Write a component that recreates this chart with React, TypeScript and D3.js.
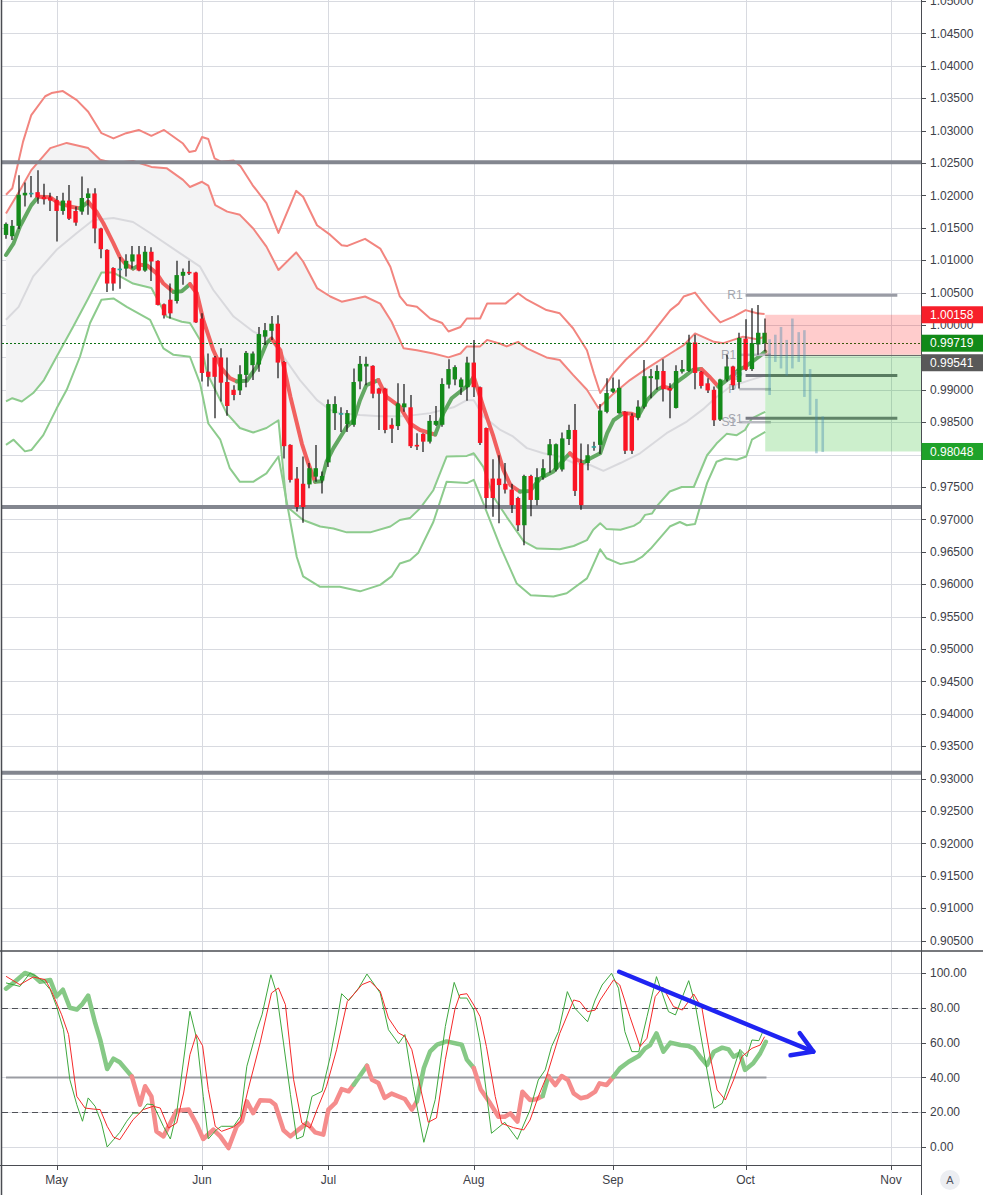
import { useEffect, useRef } from 'react'
import * as d3 from 'd3'

type Pt = [number, number]

const W = 983
const H = 1195
const AXIS_X = 921
const PANE_SPLIT = 951
const BOTTOM = 1165
const FONT = '"Liberation Sans", Arial, sans-serif'

// ── Time axis (bar index) ─────────────────────────────────────────────────────
const MONTHS = ['May', 'Jun', 'Jul', 'Aug', 'Sep', 'Oct', 'Nov']
const MONTH_BARS = [8, 31, 51, 74, 96, 117, 140]

const PRICE_TICKS = [
  0.905, 0.91, 0.915, 0.92, 0.925, 0.93, 0.935, 0.94, 0.945, 0.95, 0.955, 0.96, 0.965, 0.97, 0.975,
  0.98, 0.985, 0.99, 0.995, 1.0, 1.005, 1.01, 1.015, 1.02, 1.025, 1.03, 1.035, 1.04, 1.045, 1.05,
]
const OSC_TICKS = [0, 20, 40, 60, 80, 100]

// ── Daily candles ─────────────────────────────────────────────────────────────
const OPEN = [
  1.0139, 1.0137, 1.0153, 1.02, 1.0204, 1.0205, 1.0198, 1.0197, 1.0193, 1.0176,
  1.0192, 1.0176, 1.0175, 1.0196, 1.0203, 1.0149, 1.0116, 1.0088, 1.0087, 1.0087,
  1.0098, 1.0109, 1.0084, 1.0113, 1.0099, 1.0032, 1.0039, 1.0037, 1.0076, 1.0082,
  1.0081, 1.001, 0.9928, 0.995, 0.995, 0.9912, 0.99, 0.9899, 0.9923, 0.9938,
  0.9939, 0.9982, 0.9991, 1.0002, 0.9943, 0.9815, 0.9763, 0.9755, 0.9754, 0.9766,
  0.976, 0.9788, 0.9864, 0.9864, 0.9847, 0.9846, 0.9913, 0.9936, 0.9937, 0.9902,
  0.9902, 0.9846, 0.9844, 0.9873, 0.9873, 0.9815, 0.9832, 0.982, 0.9846, 0.9846,
  0.9908, 0.9916, 0.9904, 0.9904, 0.9942, 0.9904, 0.9841, 0.9763, 0.9763, 0.9755,
  0.9746, 0.9733, 0.9691, 0.9767, 0.973, 0.9765, 0.9799, 0.9777, 0.9777, 0.9824,
  0.9838, 0.9787, 0.9787, 0.9813, 0.9815, 0.9866, 0.9897, 0.9864, 0.9866, 0.986,
  0.9857, 0.9874, 0.9918, 0.9916, 0.9929, 0.9903, 0.9872, 0.9928, 0.9929, 0.9973,
  0.9928, 0.991, 0.99, 0.9854, 0.9916, 0.9936, 0.9912, 0.9979, 0.9932, 0.997,
  0.9972,
]
const HIGH = [
  1.0158, 1.0162, 1.0231, 1.022, 1.023, 1.0239, 1.0218, 1.0204, 1.0199, 1.0204,
  1.0216, 1.0183, 1.0229, 1.0211, 1.0211, 1.015, 1.0117, 1.0089, 1.0105, 1.0109,
  1.0122, 1.0122, 1.0122, 1.012, 1.01, 1.0033, 1.0064, 1.0099, 1.0087, 1.0099,
  1.0082, 1.0018, 0.9956, 0.9952, 0.9964, 0.995, 0.9907, 0.9938, 0.996, 0.9959,
  0.9997, 1.0003, 1.0014, 1.0015, 0.9944, 0.9816, 0.9781, 0.9797, 0.9787, 0.9815,
  0.9774, 0.9885, 0.989, 0.9873, 0.9869, 0.9933, 0.9952, 0.9951, 0.9938, 0.9903,
  0.9903, 0.9856, 0.991, 0.9909, 0.9892, 0.9833, 0.9833, 0.9861, 0.9875, 0.9918,
  0.9947, 0.9938, 0.9919, 0.9951, 0.9977, 0.9905, 0.9842, 0.9793, 0.9799, 0.9787,
  0.9755, 0.9735, 0.9769, 0.9769, 0.9779, 0.9793, 0.9824, 0.9817, 0.9834, 0.9846,
  0.9878, 0.9817, 0.9816, 0.982, 0.9878, 0.9918, 0.9919, 0.9916, 0.9867, 0.9864,
  0.9884, 0.9946, 0.9932, 0.9938, 0.9947, 0.991, 0.9938, 0.9946, 0.9985, 0.9985,
  0.9929, 0.9918, 0.9905, 0.9917, 0.9954, 0.9937, 0.9988, 1.0009, 1.0026, 1.0031,
  1.001,
]
const LOW = [
  1.0133, 1.0131, 1.0148, 1.0183, 1.0197, 1.0187, 1.0186, 1.0176, 1.0129, 1.017,
  1.0162, 1.0153, 1.017, 1.017, 1.0126, 1.0103, 1.0051, 1.0053, 1.0056, 1.0075,
  1.0087, 1.0083, 1.0082, 1.0068, 1.003, 1.001, 1.001, 1.0033, 1.0062, 1.0077,
  1.0003, 0.9913, 0.9905, 0.9856, 0.9882, 0.986, 0.9884, 0.9892, 0.9904, 0.9915,
  0.9928, 0.9969, 0.9977, 0.9918, 0.9794, 0.9757, 0.9712, 0.9695, 0.9748, 0.9758,
  0.974, 0.9781, 0.9838, 0.9835, 0.9835, 0.9843, 0.9901, 0.9907, 0.9887, 0.9838,
  0.9833, 0.9818, 0.9838, 0.9866, 0.981, 0.9807, 0.9804, 0.9817, 0.9844, 0.9843,
  0.9902, 0.9907, 0.9892, 0.9883, 0.9889, 0.9815, 0.9717, 0.9704, 0.9694, 0.974,
  0.971, 0.9682, 0.966, 0.9705, 0.9722, 0.9761, 0.9772, 0.9774, 0.9774, 0.9815,
  0.9736, 0.9715, 0.9776, 0.9806, 0.9801, 0.9864, 0.9895, 0.9863, 0.9801, 0.9801,
  0.9853, 0.9871, 0.9887, 0.99, 0.9882, 0.9856, 0.9871, 0.9925, 0.9928, 0.9901,
  0.9902, 0.9895, 0.9844, 0.9852, 0.9913, 0.99, 0.9902, 0.9929, 0.9929, 0.9954,
  0.9959,
]
const CLOSE = [
  1.0156, 1.0153, 1.0201, 1.0204, 1.0204, 1.0197, 1.0194, 1.0192, 1.0176, 1.0192,
  1.0164, 1.0158, 1.0196, 1.0203, 1.0149, 1.0117, 1.0064, 1.0064, 1.0087, 1.0099,
  1.0109, 1.0084, 1.0113, 1.0098, 1.0031, 1.0015, 1.0018, 1.0077, 1.0082, 1.008,
  1.0004, 0.9926, 0.992, 0.992, 0.9911, 0.9875, 0.9892, 0.9924, 0.9957, 0.9956,
  0.9986, 0.9992, 1.0002, 0.9942, 0.9813, 0.9761, 0.9719, 0.9719, 0.9779, 0.9779,
  0.9767, 0.9878, 0.9878, 0.9864, 0.9864, 0.9912, 0.994, 0.994, 0.9894, 0.9894,
  0.9838, 0.984, 0.9879, 0.9879, 0.9813, 0.9814, 0.982, 0.9852, 0.9852, 0.9909,
  0.9932, 0.9935, 0.9916, 0.9942, 0.9904, 0.9818, 0.9733, 0.9733, 0.9753, 0.9746,
  0.9722, 0.9691, 0.9767, 0.973, 0.9765, 0.9779, 0.9816, 0.9816, 0.9825, 0.9838,
  0.9744, 0.9722, 0.9799, 0.9813, 0.9868, 0.9895, 0.9902, 0.9903, 0.9806, 0.9806,
  0.9874, 0.9921, 0.9921, 0.9929, 0.9901, 0.9899, 0.9929, 0.9932, 0.9973, 0.9926,
  0.9906, 0.9899, 0.9853, 0.9916, 0.9936, 0.9907, 0.998, 0.9931, 0.9972, 0.9988,
  0.9988,
]

// ── Bands: [bar, price] ───────────────────────────────────────────────────────
const UPPER_OUTER: Pt[] = [
  [0, 1.0201], [1, 1.0211], [2.7, 1.0283], [4, 1.0324], [6.2, 1.0353], [7.2, 1.0358], [9, 1.0361],
  [11.2, 1.0347], [13, 1.0329], [15.1, 1.0296], [17, 1.0288], [19, 1.0296], [21, 1.0301], [23, 1.0292],
  [25, 1.0301], [28, 1.028], [29, 1.0267], [30, 1.0269], [31, 1.029], [32, 1.0287], [33, 1.0257],
  [34, 1.0252], [36, 1.0254], [37.1, 1.0245], [39, 1.0216], [41.2, 1.0188], [43.1, 1.0142], [45.9, 1.0207],
  [47, 1.0198], [49.2, 1.0154], [51.3, 1.0139], [53.1, 1.0123], [54, 1.0122], [56.8, 1.0133], [59.2, 1.0118],
  [60.8, 1.009], [62.3, 1.0044], [63.4, 1.0031], [65, 1.0028], [67.1, 1.001], [69, 1.0003], [70, 0.999],
  [71.9, 0.9997], [72.9, 1.001], [75, 1.001], [76.1, 1.0033], [78.2, 1.0033], [79, 1.0033], [81, 1.0049],
  [82.4, 1.0039], [85.5, 1.0023], [87.6, 1.0018], [89.7, 0.9995], [91.9, 0.9961], [93, 0.9925], [94, 0.9895],
  [96.1, 0.9925], [98, 0.9946], [101.4, 0.9977], [105.1, 1.0023], [106.4, 1.0033], [107.2, 1.0044],
  [109, 1.005], [110.1, 1.0036], [111.4, 1.0021], [113, 1.0004], [115.1, 1.0013], [117, 1.0023],
  [118.8, 1.0018], [120, 1.0017],
]
const UPPER_INNER: Pt[] = [
  [0, 1.0172], [2.2, 1.0208], [4, 1.0239], [7, 1.0273], [9.6, 1.0281], [13, 1.0273], [14.9, 1.0255],
  [17, 1.025], [20.1, 1.0253], [23, 1.0244], [25.4, 1.0242], [28, 1.0224], [29.1, 1.0213], [31, 1.0221],
  [32, 1.0215], [33.1, 1.0185], [35, 1.0175], [37, 1.017], [39.1, 1.0149], [41.2, 1.0121], [43.1, 1.0085],
  [45.9, 1.0112], [47, 1.0098], [49.2, 1.0057], [51.3, 1.0044], [53.1, 1.0036], [56.8, 1.0044], [59.2, 1.0033],
  [61, 1.0005], [62.9, 0.9964], [65, 0.9961], [67.6, 0.9956], [70, 0.995], [71.9, 0.9956], [72.9, 0.9967],
  [75, 0.9967], [76.1, 0.9977], [78.2, 0.9971], [79.2, 0.9967], [81, 0.9974], [82.4, 0.9964], [85.5, 0.995],
  [87.6, 0.9946], [89.7, 0.9923], [91.9, 0.99], [93.7, 0.9872], [96, 0.9893], [98.7, 0.9915], [101.4, 0.9933],
  [105.1, 0.9956], [107.2, 0.9969], [109, 0.9987], [112, 0.9974], [113.5, 0.9972], [116.6, 0.9982],
  [118.8, 0.9978], [120, 0.9982],
]
const MIDDLE: Pt[] = [
  [0, 1.0008], [2, 1.0028], [4.3, 1.0075], [8, 1.0116], [11.2, 1.0142], [13.8, 1.0162], [17, 1.0165],
  [20.1, 1.0159], [22.8, 1.0142], [27.5, 1.0111], [30.7, 1.009], [32.8, 1.0054], [36, 1.0013], [39.1, 0.999],
  [41.8, 0.9977], [43.9, 0.9951], [46.5, 0.9915], [49.2, 0.9884], [51.3, 0.9869], [52.8, 0.9864], [56, 0.9861],
  [59.2, 0.9859], [62.9, 0.9859], [67.1, 0.9864], [70.8, 0.9873], [72.9, 0.9884], [74, 0.9884], [75.5, 0.9859],
  [78.2, 0.9838], [80.2, 0.9828], [82.4, 0.981], [85, 0.9802], [87.6, 0.9797], [89.8, 0.9787], [92.4, 0.9784],
  [94.5, 0.9775], [97.2, 0.9787], [100.3, 0.9802], [104.5, 0.9833], [107.7, 0.9851], [110.4, 0.9871],
  [112.4, 0.9889], [114.6, 0.9905], [117.7, 0.9915], [120, 0.9922],
]
const LOWER_INNER: Pt[] = [
  [0, 0.9882], [1, 0.9887], [2.5, 0.9882], [4.3, 0.9895], [6, 0.9915], [8, 0.9951], [10.6, 0.9997],
  [13, 1.0041], [15.1, 1.0081], [17, 1.0081], [20.1, 1.0064], [23, 1.0057], [25.4, 1.0013], [27.8, 1.0005],
  [29.1, 1.0003], [30.7, 0.9977], [31.8, 0.9926], [34.9, 0.9864], [37, 0.9841], [39.1, 0.9834], [41.2, 0.9841],
  [43.1, 0.9853], [44.4, 0.972], [47, 0.9699], [49.7, 0.9689], [51.8, 0.9686], [53.9, 0.968], [57.6, 0.968],
  [60.8, 0.9689], [62.3, 0.9699], [63.9, 0.9702], [65.5, 0.9717], [67.6, 0.9745], [69.7, 0.9797], [72.9, 0.9798],
  [74, 0.9802], [75.5, 0.9781], [77.1, 0.9735], [79.2, 0.9704], [81.9, 0.9666], [84, 0.9655], [87.6, 0.9654],
  [89.8, 0.9659], [91.9, 0.9668], [92.9, 0.9684], [94, 0.9694], [95, 0.9685], [97.2, 0.9684], [99.3, 0.969],
  [100.3, 0.9696], [101.1, 0.9707], [102.2, 0.9709], [103, 0.9721], [105, 0.9743], [106.9, 0.975],
  [108.8, 0.975], [110.9, 0.9799], [112.4, 0.9817], [114, 0.9832], [115.6, 0.983], [116.9, 0.9838],
  [118, 0.9856], [120.1, 0.9866],
]
const LOWER_OUTER: Pt[] = [
  [0, 0.9815], [1.2, 0.9823], [3, 0.9805], [4, 0.9807], [5.9, 0.983], [8, 0.9871], [9.6, 0.99],
  [11.7, 0.9951], [13.3, 1.0003], [15.1, 1.0039], [17, 1.0041], [19.1, 1.0028], [22.8, 1.0008], [24.9, 0.9964],
  [26.5, 0.9954], [29.1, 0.9951], [30.7, 0.991], [32, 0.9848], [33.9, 0.9823], [35.4, 0.9779], [37, 0.9758],
  [39.1, 0.9758], [41.2, 0.9771], [43.1, 0.9797], [46, 0.9642], [47, 0.9612], [49.7, 0.9596], [52.8, 0.9596],
  [56, 0.9589], [59.2, 0.9599], [61, 0.9612], [62.3, 0.9632], [63.9, 0.9637], [65.2, 0.9648], [67.6, 0.9696],
  [69.7, 0.9758], [72.9, 0.9756], [74, 0.9761], [75.5, 0.9725], [78.2, 0.9658], [80.8, 0.9601], [83, 0.9583],
  [86.6, 0.9581], [88.7, 0.9586], [91.9, 0.9609], [92.4, 0.9619], [94, 0.9654], [95, 0.964], [97.2, 0.9631],
  [99.3, 0.9635], [100.6, 0.9642], [102, 0.9655], [105, 0.9689], [106.6, 0.9696], [107.7, 0.9691], [109, 0.9693],
  [110.9, 0.9756], [112.4, 0.9789], [113.8, 0.9794], [115.6, 0.9792], [117.1, 0.9797], [118, 0.9823],
  [120.1, 0.9835],
]
const FAST_MA: Pt[] = [
  [0, 1.0108], [1.2, 1.0126], [2.2, 1.0152], [4, 1.0185], [5.1, 1.0198], [7, 1.0197], [8.3, 1.0188],
  [10.1, 1.0183], [11.7, 1.018], [13, 1.019], [14.3, 1.0175], [15.4, 1.0157], [17, 1.0126], [18, 1.0105],
  [19, 1.0093], [20.1, 1.0087], [21.2, 1.0093], [22.3, 1.0092], [23.8, 1.008], [24.9, 1.0064], [26.5, 1.0051],
  [27.8, 1.0052], [29.1, 1.0063], [30.2, 1.0049], [31.2, 1.0008], [32.8, 0.9961], [34.1, 0.9933], [35.4, 0.9918],
  [36.5, 0.9913], [38.1, 0.9914], [39.7, 0.9936], [41.2, 0.9972], [42, 0.9979], [43.4, 0.9961], [45, 0.9889],
  [46.8, 0.9817], [47.8, 0.9787], [48.9, 0.9758], [49.9, 0.9759], [50.7, 0.9789], [51.8, 0.981], [53.9, 0.9843],
  [55, 0.9853], [56, 0.9884], [57, 0.9907], [58.9, 0.9915], [60.2, 0.9889], [62.3, 0.9874], [63.9, 0.9848],
  [65.5, 0.9838], [67.1, 0.9833], [67.9, 0.9831], [69.2, 0.9864], [70.5, 0.9887], [71.8, 0.9897], [73.1, 0.9907],
  [74, 0.992], [75.5, 0.9874], [77.1, 0.9828], [78.7, 0.9776], [79.8, 0.9753], [81.3, 0.9743], [82.9, 0.9744],
  [84.5, 0.9763], [86.6, 0.9774], [88.7, 0.9797], [89.2, 0.9802], [90.3, 0.9792], [91.4, 0.9788], [92.4, 0.9794],
  [94, 0.9802], [95.1, 0.9833], [96.1, 0.9853], [97.7, 0.9864], [99, 0.9863], [100, 0.9859], [101.4, 0.9884],
  [103, 0.99], [104, 0.9905], [105.1, 0.9902], [106.1, 0.9912], [107.4, 0.9921], [108.7, 0.9931], [110, 0.9932],
  [111.4, 0.9919], [112.7, 0.9905], [114, 0.9915], [115.1, 0.9923], [115.9, 0.9931], [117, 0.9936],
  [118, 0.9943], [119.1, 0.9951], [120.1, 0.9959],
]

// ── Levels & annotations ──────────────────────────────────────────────────────
const SUPPORT_LEVELS = [1.0251, 0.9719, 0.9309]
const LAST_PRICE = 0.99719
const POS_START = 120.1
const POS_STOP = 1.00158
const POS_ENTRY = 0.99541
const POS_TARGET = 0.98048
const AXIS_MARKS = [1.00158, 0.99719, 0.99541, 0.98048]

const PIVOT_NAMES = ['R1', 'P', 'S1']
const PIVOTS_SEP = [0.9954, 0.9901, 0.985]
const PIVOTS_OCT = [1.0046, 0.9922, 0.9856]
const PIVOT_SEP_SPAN = [116, 121]
const PIVOT_OCT_SPAN = [117, 141]

// projected bars: [bar, high, low]
const GHOST_BARS: [number, number, number][] = [
  [120.8, 0.9978, 0.9892], [121.7, 0.9985, 0.9943], [122.6, 0.9997, 0.9933], [123.5, 0.9977, 0.9922],
  [124.4, 1.001, 0.9933], [125.4, 0.9989, 0.9943], [126.3, 0.9992, 0.9889], [127.2, 0.9932, 0.9861],
  [128.2, 0.9886, 0.9802], [129.2, 0.9859, 0.9804],
]

// ── Oscillator ────────────────────────────────────────────────────────────────
const OSC_K: Pt[] = [
  [0, 94.3], [2.2, 92.3], [3.8, 100], [4.8, 98.1], [5.9, 95.2], [7, 90.4], [8, 80.8], [9.1, 67.4], [10.1, 38.7],
  [11.2, 24.3], [12.1, 14.8], [13, 28.2], [14.1, 23.4], [15.1, 13.8], [16, 0], [17, 4.2], [18, 8.4], [19.1, 14.8],
  [20.1, 19.5], [21.2, 19.5], [22.3, 24.7], [23.3, 24.3], [24.9, 11.9], [26, 4.6], [27, 19.5], [29.1, 78],
  [30.2, 61.7], [31.2, 29.1], [32, 4.6], [33.3, 10], [34.1, 11.9], [36, 11.9], [37.1, 17.6], [38.1, 46.4],
  [39.7, 67.4], [40.5, 76], [41.9, 99], [42.8, 88.5], [43.9, 59.8], [45, 30.1], [46, 4.6], [47, 6.1], [48.4, 29.1],
  [50, 32], [51.3, 52.1], [52.3, 71.3], [53.1, 88.1], [54.2, 84.1], [55.8, 91.4], [57.1, 99.4], [59.2, 88.5],
  [60.5, 67.4], [62.1, 59.4], [63.1, 64.6], [64.4, 34.9], [66.1, 2.7], [67.9, 27.2], [69.5, 69.3], [70.9, 94.6],
  [71.8, 85.6], [72.9, 85.6], [74, 78.7], [75, 60], [76.8, 7.9], [78.9, 14.2], [80.9, 4.4], [82.9, 21.3],
  [84.2, 38.5], [85.3, 44.3], [86.3, 57.7], [87.4, 66.3], [88.8, 89.3], [90, 79.7], [92, 72], [93.2, 84.5],
  [94.3, 93.1], [95.8, 99.8], [96.9, 91.2], [97.9, 66.3], [99, 54.8], [100.1, 54.8], [101.4, 74.9], [102.9, 97.9],
  [103.9, 87.4], [104.8, 77.8], [105.9, 75.9], [108, 95.6], [109, 82.6], [110.6, 50], [112, 22.2], [113.3, 25.1],
  [114.6, 39.5], [116.1, 56.1], [117.2, 51.9], [118, 61.5], [119.1, 61.1], [119.8, 66.9],
]
const OSC_D: Pt[] = [
  [0, 98.1], [2.2, 93.3], [4.3, 97.7], [6.2, 96.2], [7.2, 89.5], [8.8, 76], [9.9, 64.6], [11.2, 29.1],
  [12.5, 22.4], [13.8, 21.8], [14.9, 21.5], [16, 11.9], [17, 5.7], [18, 4.2], [20.1, 15.7], [21.7, 21.5],
  [23.3, 23.4], [24.4, 22.4], [25.7, 10.9], [27, 13.8], [28.1, 31], [29.1, 53.1], [30.1, 64.6], [31.1, 58.2],
  [32, 33], [33.1, 11.9], [34.1, 9], [36, 11.5], [37.1, 14.8], [38.3, 33], [40.2, 59.8], [42, 88.5], [43.1, 91.4],
  [44.2, 81.8], [45.5, 38.7], [46.8, 13.8], [48.1, 10.9], [49.2, 21.5], [50.7, 34.9], [52.3, 55.9], [54, 83.7],
  [55.2, 88.5], [56.3, 93.3], [57.6, 95.2], [59.2, 89.5], [60.5, 74.1], [62.1, 65.5], [63.1, 63.6], [64.2, 55.9],
  [65.5, 34.9], [66.8, 14.2], [68.1, 16.7], [69.5, 50.2], [71, 78.9], [71.8, 87.5], [72.9, 88.1], [74, 81.6],
  [75, 74.9], [76, 57.7], [77.4, 28.9], [78.4, 13.6], [80.3, 11.1], [81.9, 9.8], [82.9, 15.5], [84.2, 28.9],
  [85.5, 40.4], [87.6, 65.3], [89.8, 84.5], [90.8, 83.5], [92, 77.8], [93.2, 78.7], [94, 84.5], [96.1, 96],
  [97.1, 93.1], [98.7, 74.9], [100.3, 57.7], [101.4, 62.5], [102.7, 86.4], [103.9, 91.8], [105.6, 80.7],
  [107, 78.7], [108.8, 87.9], [110.1, 79.7], [111.4, 51.9], [112.5, 32.8], [113.8, 27], [115.1, 38.5],
  [116.4, 51.9], [118, 56.7], [119.3, 58.6], [120, 63.4],
]
const OSC_SLOW: Pt[] = [
  [0, 91], [1.4, 95], [3, 100], [4.3, 98.5], [5.4, 95], [7, 96], [8, 86.6], [9, 90.4], [10.1, 80], [11.2, 79],
  [12, 81.8], [13, 87], [14.1, 71.3], [14.9, 61.7], [16, 44.8], [17, 50.8], [18, 48.7], [19.9, 40.6], [21.2, 24.3],
  [22, 34.9], [23, 29.1], [23.8, 9], [24.9, 6.1], [26, 13.8], [27, 20.9], [28.9, 21.5], [30.2, 12.8], [31.2, 4.6],
  [32.8, 10], [33.9, 6.1], [35.2, -0.6], [36.5, 11.9], [37.3, 14.8], [38.1, 26.2], [39.1, 19.5], [40.2, 26.8],
  [41.8, 26.6], [42.6, 24.3], [43.9, 9.6], [45, 6.1], [46.3, 10], [47.6, 13.8], [48.9, 8.4], [50.2, 7.1], [51, 21.5],
  [52.1, 25.3], [53.1, 33.3], [54.2, 32], [55, 35.8], [57.1, 46.7], [57.9, 38.7], [58.9, 36.8], [59.9, 28.2],
  [61, 30.7], [63.1, 27.6], [64.2, 21.5], [65, 26.2], [66.1, 45.4], [67.1, 55], [68.2, 58.8], [69.7, 60.7],
  [72.1, 58.8], [72.9, 50.2], [74, 45.4], [75.1, 33], [76.6, 25.1], [77.9, 17.4], [78.9, 17.4], [79.8, 19.3],
  [80.9, 14.6], [81.7, 31.8], [82.9, 27], [83.9, 27.4], [84.9, 29.3], [85.8, 40.8], [86.9, 35.6], [87.9, 40.8],
  [88.9, 38.5], [89.8, 30.8], [90.9, 28], [92, 28.9], [93.2, 31.8], [93.9, 36.6], [95, 35.6], [96.1, 40.4],
  [97.1, 45.2], [98.5, 49], [100.1, 52.3], [101.1, 56.7], [101.9, 58.6], [102.9, 65.3], [104, 54.8], [105.1, 60],
  [106.7, 58.6], [108, 58], [108.8, 56.7], [109.8, 51.9], [110.9, 47.1], [112, 54.8], [113.3, 57.1],
  [114.3, 56.1], [115.1, 51.9], [116.1, 53.8], [116.9, 44.3], [118.2, 48.1], [119.3, 53.8], [120.2, 60.5],
]
// bar ranges where the slow line is bullish
const OSC_BULL_RANGES: Pt[] = [[0, 19.9], [55, 57.1], [65, 74], [84.9, 85.8], [96.1, 120.2]]
const OSC_MID_LEVEL = 40
const OSC_MID_END = 120.3
const OSC_BANDS = [80, 20]
const TREND_ARROW: Pt[] = [[97.0, 100.7], [127.7, 54.8]]

type Run = { up: boolean; pts: Pt[] }
function colourRuns(pts: Pt[], isUp: (a: Pt, b: Pt, prev: boolean) => boolean): Run[] {
  const runs: Run[] = []
  let prev = true
  for (let k = 1; k < pts.length; k++) {
    const up = isUp(pts[k - 1], pts[k], prev)
    prev = up
    const last = runs[runs.length - 1]
    if (last && last.up === up) last.pts.push(pts[k])
    else runs.push({ up, pts: [pts[k - 1], pts[k]] })
  }
  return runs
}

const crisp = (v: number) => Math.round(v) + 0.5

export default function App() {
  const svgRef = useRef<SVGSVGElement>(null)

  useEffect(() => {
    const svg = d3.select(svgRef.current!)
    svg.selectAll('*').remove()

    const x = d3.scaleLinear([0, 140], [6, 891])
    const y = d3.scaleLinear([0.905, 1.05], [940.6, 1])
    const yo = d3.scaleLinear([0, 100], [1147, 973])

    const defs = svg.append('defs')
    defs.append('clipPath').attr('id', 'clip-price')
      .append('rect').attr('x', 2).attr('y', 0).attr('width', AXIS_X - 2).attr('height', PANE_SPLIT)
    defs.append('clipPath').attr('id', 'clip-osc')
      .append('rect').attr('x', 2).attr('y', PANE_SPLIT).attr('width', AXIS_X - 2).attr('height', BOTTOM - PANE_SPLIT)

    svg.append('rect').attr('width', W).attr('height', H).attr('fill', '#ffffff')

    // ── Grid ──────────────────────────────────────────────────────────────────
    const grid = svg.append('g').attr('stroke', '#d8dae0').attr('stroke-width', 1)
    MONTH_BARS.forEach(b => {
      grid.append('line').attr('x1', crisp(x(b))).attr('x2', crisp(x(b))).attr('y1', 0).attr('y2', BOTTOM)
    })
    PRICE_TICKS.forEach(p => {
      grid.append('line').attr('x1', 2).attr('x2', AXIS_X).attr('y1', crisp(y(p))).attr('y2', crisp(y(p)))
    })
    OSC_TICKS.forEach(v => {
      grid.append('line').attr('x1', 2).attr('x2', AXIS_X).attr('y1', crisp(yo(v))).attr('y2', crisp(yo(v)))
    })

    // ── Price pane ────────────────────────────────────────────────────────────
    const pg = svg.append('g').attr('clip-path', 'url(#clip-price)')
    const lineP = d3.line<Pt>().x(d => x(d[0])).y(d => y(d[1]))

    pg.append('path')
      .attr('d', lineP([...UPPER_INNER, ...LOWER_INNER.slice().reverse()]) + 'Z')
      .attr('fill', '#f3f3f4')

    const bandLine = (pts: Pt[], colour: string) =>
      pg.append('path').attr('d', lineP(pts)).attr('fill', 'none')
        .attr('stroke', colour).attr('stroke-width', 2).attr('stroke-linejoin', 'round')
    bandLine(MIDDLE, '#d9d9dd')
    bandLine(UPPER_OUTER, '#f2857f')
    bandLine(UPPER_INNER, '#f2857f')
    bandLine(LOWER_INNER, '#8dcb8d')
    bandLine(LOWER_OUTER, '#8dcb8d')

    // fast MA coloured by slope
    colourRuns(FAST_MA, (a, b, prev) => (b[1] > a[1] ? true : b[1] < a[1] ? false : prev)).forEach(r => {
      pg.append('path').attr('d', lineP(r.pts)).attr('fill', 'none')
        .attr('stroke', r.up ? '#62a862' : '#f1605f').attr('stroke-width', 4)
        .attr('stroke-linejoin', 'round').attr('stroke-linecap', 'round')
    })

    // support / resistance
    SUPPORT_LEVELS.forEach(p => {
      pg.append('line').attr('x1', 2).attr('x2', AXIS_X).attr('y1', y(p)).attr('y2', y(p))
        .attr('stroke', '#83868f').attr('stroke-width', 4)
    })

    // pivots
    const drawPivots = (vals: number[], span: number[], colours: string[], width: number) => {
      vals.forEach((p, k) => {
        pg.append('line').attr('x1', x(span[0])).attr('x2', x(span[1])).attr('y1', y(p)).attr('y2', y(p))
          .attr('stroke', colours[k]).attr('stroke-width', width)
        pg.append('text').attr('x', x(span[0]) - 3).attr('y', y(p)).attr('dy', '0.35em')
          .attr('text-anchor', 'end').attr('font-family', FONT).attr('font-size', 12)
          .attr('fill', '#a3a6ae').text(PIVOT_NAMES[k])
      })
    }
    drawPivots(PIVOTS_SEP, PIVOT_SEP_SPAN, ['#b8bac1', '#b8bac1', '#b8bac1'], 2.5)
    drawPivots(PIVOTS_OCT, PIVOT_OCT_SPAN, ['#9a9ca5', '#6e7078', '#787a82'], 3)

    // candles
    const bars = d3.range(OPEN.length)
    const bw = 4.4
    pg.append('g').selectAll('line').data(bars).join('line')
      .attr('x1', i => crisp(x(i)) - 0.5).attr('x2', i => crisp(x(i)) - 0.5)
      .attr('y1', i => y(HIGH[i])).attr('y2', i => y(LOW[i]))
      .attr('stroke', '#111').attr('stroke-width', 1.2)
    pg.append('g').selectAll('rect').data(bars).join('rect')
      .attr('x', i => x(i) - bw / 2).attr('width', bw)
      .attr('y', i => y(Math.max(OPEN[i], CLOSE[i])))
      .attr('height', i => Math.max(1.6, Math.abs(y(OPEN[i]) - y(CLOSE[i]))))
      .attr('fill', i => {
        const d = CLOSE[i] - OPEN[i]
        if (Math.abs(d) < 0.00005) return '#2aa39c'
        return d > 0 ? '#148a1a' : '#fa1424'
      })

    // last price dotted line
    pg.append('line').attr('x1', 2).attr('x2', AXIS_X).attr('y1', crisp(y(LAST_PRICE))).attr('y2', crisp(y(LAST_PRICE)))
      .attr('stroke', '#0b6f12').attr('stroke-width', 1).attr('stroke-dasharray', '2,2')

    // position tool
    const px0 = x(POS_START)
    pg.append('rect').attr('x', px0).attr('width', AXIS_X - px0)
      .attr('y', y(POS_STOP)).attr('height', y(POS_ENTRY) - y(POS_STOP))
      .attr('fill', 'rgba(255,0,0,0.2)')
    pg.append('rect').attr('x', px0).attr('width', AXIS_X - px0)
      .attr('y', y(POS_ENTRY)).attr('height', y(POS_TARGET) - y(POS_ENTRY))
      .attr('fill', 'rgba(0,175,0,0.2)')
    pg.append('line').attr('x1', px0).attr('x2', AXIS_X).attr('y1', crisp(y(POS_ENTRY))).attr('y2', crisp(y(POS_ENTRY)))
      .attr('stroke', '#6a6a6a').attr('stroke-width', 1)

    // projected bars
    pg.append('g').selectAll('rect').data(GHOST_BARS).join('rect')
      .attr('x', d => x(d[0]) - 1.3).attr('width', 2.6)
      .attr('y', d => y(d[1])).attr('height', d => y(d[2]) - y(d[1]))
      .attr('fill', 'rgba(70,140,175,0.4)')

    // ── Oscillator pane ───────────────────────────────────────────────────────
    const og = svg.append('g').attr('clip-path', 'url(#clip-osc)')
    const lineO = d3.line<Pt>().x(d => x(d[0])).y(d => yo(d[1]))

    OSC_BANDS.forEach(v => {
      og.append('line').attr('x1', 2).attr('x2', AXIS_X).attr('y1', crisp(yo(v))).attr('y2', crisp(yo(v)))
        .attr('stroke', '#505258').attr('stroke-width', 1).attr('stroke-dasharray', '6,4')
    })
    og.append('line').attr('x1', x(0)).attr('x2', x(OSC_MID_END))
      .attr('y1', yo(OSC_MID_LEVEL)).attr('y2', yo(OSC_MID_LEVEL))
      .attr('stroke', '#9b9da3').attr('stroke-width', 2)

    colourRuns(OSC_SLOW, (a, b) => {
      const m = (a[0] + b[0]) / 2
      return OSC_BULL_RANGES.some(([s, e]) => m >= s && m <= e)
    }).forEach(r => {
      og.append('path').attr('d', lineO(r.pts)).attr('fill', 'none')
        .attr('stroke', r.up ? '#86c986' : '#f58c8c').attr('stroke-width', 4.5)
        .attr('stroke-linejoin', 'round').attr('stroke-linecap', 'round')
    })
    og.append('path').attr('d', lineO(OSC_K)).attr('fill', 'none')
      .attr('stroke', '#3ea83e').attr('stroke-width', 1)
    og.append('path').attr('d', lineO(OSC_D)).attr('fill', 'none')
      .attr('stroke', '#f52a2a').attr('stroke-width', 1)

    // trend arrow
    const [a0, a1] = TREND_ARROW
    const sx = x(a0[0]), sy = yo(a0[1]), ex = x(a1[0]), ey = yo(a1[1])
    const ang = Math.atan2(ey - sy, ex - sx)
    const head = 23
    const arrow = og.append('g').attr('stroke', '#1f24f2').attr('stroke-width', 4.5)
      .attr('stroke-linecap', 'round').attr('fill', 'none')
    arrow.append('line').attr('x1', sx).attr('y1', sy).attr('x2', ex).attr('y2', ey)
    ;[-1, 1].forEach(s => {
      const a = ang + Math.PI + s * 0.55
      arrow.append('line').attr('x1', ex).attr('y1', ey)
        .attr('x2', ex + head * Math.cos(a)).attr('y2', ey + head * Math.sin(a))
    })

    // ── Frames ────────────────────────────────────────────────────────────────
    const frame = svg.append('g').attr('stroke', '#4a4c52')
    frame.append('line').attr('x1', 1.5).attr('x2', 1.5).attr('y1', 0).attr('y2', H).attr('stroke-width', 1.5)
    frame.append('line').attr('x1', crisp(AXIS_X)).attr('x2', crisp(AXIS_X)).attr('y1', 0).attr('y2', H)
    frame.append('line').attr('x1', 0).attr('x2', W).attr('y1', PANE_SPLIT).attr('y2', PANE_SPLIT).attr('stroke-width', 1.5)
    frame.append('line').attr('x1', 0).attr('x2', AXIS_X).attr('y1', crisp(BOTTOM)).attr('y2', crisp(BOTTOM))

    // ── Right axis labels ─────────────────────────────────────────────────────
    const axis = svg.append('g').attr('font-family', FONT).attr('font-size', 12)
    const markShift = [0, 0, 8, 0]
    const markCentres = AXIS_MARKS.map((p, k) => y(p) + markShift[k])
    PRICE_TICKS.forEach(p => {
      axis.append('line').attr('x1', AXIS_X).attr('x2', AXIS_X + 5).attr('y1', crisp(y(p))).attr('y2', crisp(y(p)))
        .attr('stroke', '#4a4c52')
      // labels fully hidden behind a marker box are not drawn
      if (markCentres.some(c => Math.abs(c - y(p)) < 8)) return
      axis.append('text').attr('x', 930).attr('y', y(p)).attr('dy', '0.35em')
        .attr('fill', '#3d4048').text(p.toFixed(5))
    })
    OSC_TICKS.forEach(v => {
      axis.append('line').attr('x1', AXIS_X).attr('x2', AXIS_X + 5).attr('y1', crisp(yo(v))).attr('y2', crisp(yo(v)))
        .attr('stroke', '#4a4c52')
      axis.append('text').attr('x', 930).attr('y', yo(v)).attr('dy', '0.35em')
        .attr('fill', '#3d4048').text(v.toFixed(2))
    })

    const markBg = ['#f71f2a', '#118a18', '#595959', '#1fa22a']
    AXIS_MARKS.forEach((p, k) => {
      const cy = markCentres[k]
      axis.append('rect').attr('x', AXIS_X + 0.5).attr('y', cy - 8.5).attr('width', W - AXIS_X).attr('height', 17)
        .attr('fill', markBg[k])
      axis.append('text').attr('x', 930).attr('y', cy).attr('dy', '0.35em')
        .attr('fill', '#ffffff').text(p.toFixed(5))
    })

    // ── Bottom time axis ──────────────────────────────────────────────────────
    MONTH_BARS.forEach((b, k) => {
      axis.append('line').attr('x1', crisp(x(b))).attr('x2', crisp(x(b))).attr('y1', BOTTOM).attr('y2', BOTTOM + 5)
        .attr('stroke', '#4a4c52')
      axis.append('text').attr('x', x(b)).attr('y', 1180).attr('dy', '0.35em')
        .attr('text-anchor', 'middle').attr('fill', '#3d4048').text(MONTHS[k])
    })
    axis.append('circle').attr('cx', 950).attr('cy', 1180).attr('r', 10).attr('fill', '#eceef2')
    axis.append('text').attr('x', 950).attr('y', 1180).attr('dy', '0.35em').attr('text-anchor', 'middle')
      .attr('font-size', 11).attr('fill', '#50535e').text('A')
  }, [])

  return (
    <svg
      ref={svgRef}
      width={W}
      height={H}
      style={{ position: 'absolute', left: 0, top: 0, display: 'block' }}
    />
  )
}
